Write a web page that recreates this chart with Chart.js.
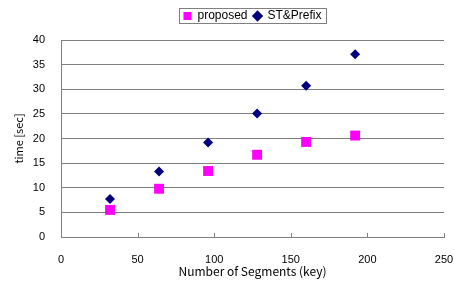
<!DOCTYPE html>
<html><head><meta charset="utf-8">
<script src="https://cdn.jsdelivr.net/npm/chart.js@4/dist/chart.umd.min.js"></script>
<style>html,body{margin:0;padding:0;background:#fff}#w{width:454px;height:285px}</style>
</head><body><div id="w"><canvas id="c" width="454" height="285"></canvas></div>
<script>
const segments = [32, 64, 96, 128, 160, 192];
const proposed = [5.5, 9.8, 13.4, 16.7, 19.3, 20.6];
const stPrefix = [7.7, 13.3, 19.2, 25.1, 30.7, 37.1];
const xTicks = [0, 50, 100, 150, 200, 250];
const yTicks = [0, 5, 10, 15, 20, 25, 30, 35, 40];

const legendLayout = {
  id: 'legendLayout',
  beforeLayout(chart) {
    const lg = chart.legend;
    if (lg && !lg._wrappedFit) {
      const f = lg.fit.bind(lg);
      lg.fit = function () { f(); this.height += 8; };
      lg._wrappedFit = true;
    }
  },
  afterLayout(chart) {
    const lg = chart.legend;
    if (lg) { lg.left = chart.chartArea.left; lg.right = chart.chartArea.right; }
  },
  afterDraw(chart) {
    const lg = chart.legend;
    if (!lg || !lg.legendHitBoxes || !lg.legendHitBoxes.length) return;
    const hb = lg.legendHitBoxes, last = hb[hb.length - 1];
    const l = hb[0].left - 4, r = last.left + last.width + 5;
    const t = hb[0].top - 2, b = hb[0].top + hb[0].height + 1;
    const ctx = chart.ctx;
    ctx.save(); ctx.strokeStyle = '#808080'; ctx.lineWidth = 1;
    ctx.strokeRect(Math.round(l) + 0.5, Math.round(t) + 0.5, Math.round(r - l), Math.round(b - t));
    ctx.restore();
  }
};
const innerTicks = {
  id: 'innerTicks',
  afterDraw(chart) {
    const xs = chart.scales.x, ctx = chart.ctx, bottom = chart.chartArea.bottom;
    ctx.save(); ctx.strokeStyle = '#808080'; ctx.lineWidth = 1;
    xTicks.forEach(v => {
      const px = Math.round(xs.getPixelForValue(v)) + 0.5;
      ctx.beginPath(); ctx.moveTo(px, bottom); ctx.lineTo(px, bottom - 4); ctx.stroke();
    });
    ctx.restore();
  }
};

new Chart(document.getElementById('c'), {
  type: 'scatter',
  data: {
    datasets: [
      { label: 'proposed', data: segments.map((x, i) => ({ x, y: proposed[i] })),
        pointStyle: 'rect', pointRadius: 7, backgroundColor: '#FF00FF', borderColor: '#FF00FF', borderWidth: 0 },
      { label: 'ST&Prefix', data: segments.map((x, i) => ({ x, y: stPrefix[i] })),
        pointStyle: 'rectRot', pointRadius: 5, backgroundColor: '#000080', borderColor: '#000080', borderWidth: 0 }
    ]
  },
  options: {
    responsive: false, animation: false, devicePixelRatio: 1,
    layout: { padding: { left: 0, right: 10, top: 4, bottom: 0 } },
    plugins: {
      legend: {
        position: 'top',
        labels: { usePointStyle: true, boxWidth: 8, boxHeight: 8, padding: 6,
          font: { family: 'Liberation Sans', size: 12 }, color: '#000' }
      },
      tooltip: { enabled: false }
    },
    scales: {
      x: {
        type: 'linear', min: 0, max: 250,
        afterBuildTicks(s) { s.ticks = xTicks.map(v => ({ value: v })); },
        afterFit(s) { s.height = 48; s.paddingRight = 0; s.paddingLeft = 0; },
        grid: { display: false },
        border: { display: true, color: '#808080' },
        ticks: { padding: 8, font: { family: 'Liberation Sans', size: 11 }, color: '#000' },
        title: { display: true, text: 'Number of Segments (key)', font: { family: 'Noto Sans CJK JP', size: 12 }, color: '#000', padding: { top: 0, bottom: 6 } }
      },
      y: {
        min: 0, max: 40,
        afterBuildTicks(s) { s.ticks = yTicks.map(v => ({ value: v })); },
        afterFit(s) { s.width = 61; s.paddingTop = 0; s.paddingBottom = 0; },
        grid: { color: '#808080', tickLength: 0, drawTicks: false },
        border: { display: true, color: '#808080' },
        ticks: { padding: 16, font: { family: 'Liberation Sans', size: 11 }, color: '#000' },
        title: { display: true, text: 'time [sec]', font: { family: 'Noto Sans CJK JP', size: 11 }, color: '#000', padding: { top: 12, bottom: 0 } }
      }
    }
  },
  plugins: [legendLayout, innerTicks]
});
</script></body></html>
